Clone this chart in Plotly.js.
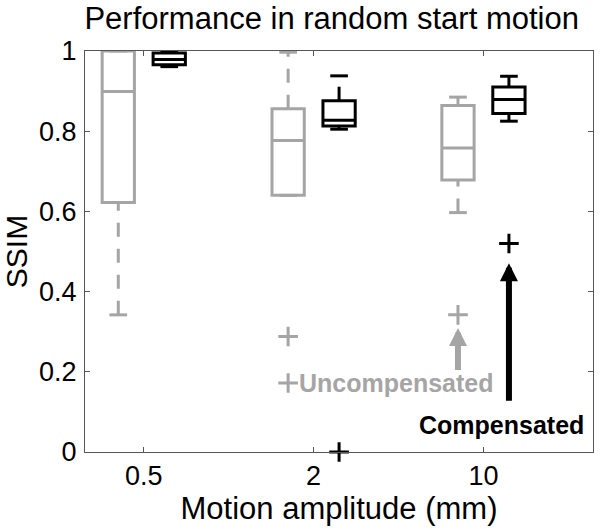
<!DOCTYPE html>
<html><head><meta charset="utf-8">
<script src="https://cdn.plot.ly/plotly-3.0.1.min.js"></script>
<style>html,body{margin:0;padding:0;background:#fff}#c{width:602px;height:531px}</style>
</head><body><div id="c"></div>
<script>
// ---- data ----
const categories = ['0.5', '2', '10'];
// Uncompensated (gray)
const uncQ1  = [0.622, 0.640, 0.678];
const uncMed = [0.899, 0.777, 0.758];
const uncQ3  = [1.000, 0.856, 0.864];
const uncLo  = [0.342, 0.640, 0.597];
const uncHi  = [1.000, 0.997, 0.885];
const uncOutCat = [1, 1, 2];
const uncOutVal = [0.288, 0.172, 0.342];
// Compensated (black)
const compQ1  = [0.966, 0.813, 0.844];
const compMed = [0.979, 0.827, 0.879];
const compQ3  = [0.995, 0.876, 0.910];
const compLo  = [0.961, 0.805, 0.825];
const compHi  = [0.999, 0.938, 0.937];
const compOutCat = [1, 2];
const compOutVal = [0.000, 0.520];

const GRAY = '#a5a5a5', BLACK = '#000000';
const OFF = 0.15, BW = 0.19, CAP = 0.052, LW = 3;
const FONT = 'Liberation Sans, Arial, sans-serif';

function group(q1, med, q3, lo, hi, oc, ov, off, color) {
  const pos = categories.map((c, i) => i + off);
  const traces = [];
  traces.push({type:'box', x:pos, q1:q1, median:med, q3:q3, lowerfence:q1, upperfence:q3,
    width:BW, whiskerwidth:0, boxpoints:false, line:{color:color, width:LW},
    fillcolor:'rgba(0,0,0,0)', hoverinfo:'skip', showlegend:false});
  const wx = [], wy = [], cx = [], cy = [];
  pos.forEach((p, i) => {
    if (lo[i] < q1[i]) { wx.push(p, p, null); wy.push(lo[i], q1[i], null); }
    if (hi[i] > q3[i]) { wx.push(p, p, null); wy.push(q3[i], hi[i], null); }
    cx.push(p - CAP, p + CAP, null, p - CAP, p + CAP, null);
    cy.push(lo[i], lo[i], null, hi[i], hi[i], null);
  });
  traces.push({type:'scatter', mode:'lines', x:wx, y:wy, line:{color:color, width:LW, dash:'14px,12px'},
    hoverinfo:'skip', showlegend:false, cliponaxis:false});
  traces.push({type:'scatter', mode:'lines', x:cx, y:cy, line:{color:color, width:LW},
    hoverinfo:'skip', showlegend:false, cliponaxis:false});
  traces.push({type:'scatter', mode:'markers', x:oc.map(c => c + off), y:ov,
    marker:{symbol:'cross-thin', size:14, line:{color:color, width:3}},
    hoverinfo:'skip', showlegend:false, cliponaxis:false});
  return traces;
}

const data = [].concat(
  group(uncQ1, uncMed, uncQ3, uncLo, uncHi, uncOutCat, uncOutVal, -OFF, GRAY),
  group(compQ1, compMed, compQ3, compLo, compHi, compOutCat, compOutVal, OFF, BLACK)
);

const axisCommon = {showline:true, linecolor:'#555', linewidth:1, mirror:'allticks',
  ticks:'inside', ticklen:5, tickcolor:'#555', showgrid:false, zeroline:false,
  tickfont:{family:FONT, size:27, color:'#000'}};

const layout = {
  width:602, height:531,
  margin:{l:84.5, r:9, t:50.5, b:78.5},
  paper_bgcolor:'#fff', plot_bgcolor:'#fff',
  title:{text:'Performance in random start motion', font:{family:FONT, size:31, color:'#000'},
    xref:'container', x:0.551, xanchor:'center', yref:'container', y:1-18/531, yanchor:'middle'},
  xaxis:Object.assign({}, axisCommon, {range:[-0.346, 2.645], tickvals:[0,1,2], ticktext:categories,
    title:{text:'Motion amplitude (mm)', font:{family:FONT, size:31, color:'#000'}, standoff:4}}),
  yaxis:Object.assign({}, axisCommon, {range:[0,1], tickvals:[0,0.2,0.4,0.6,0.8,1],
    ticktext:['0','0.2','0.4','0.6','0.8','1'], ticklabelstandoff:2,
    title:{text:'SSIM', font:{family:FONT, size:30, color:'#000'}, standoff:6}}),
  annotations:[
    {x:1.85, y:0.309, ax:1.85, ay:0.201, xref:'x', yref:'y', axref:'x', ayref:'y', text:'',
     showarrow:true, arrowhead:2, arrowsize:0.6, arrowwidth:6, arrowcolor:GRAY, standoff:0, startstandoff:0},
    {x:2.15, y:0.471, ax:2.15, ay:0.124, xref:'x', yref:'y', axref:'x', ayref:'y', text:'',
     showarrow:true, arrowhead:2, arrowsize:0.6, arrowwidth:6, arrowcolor:BLACK, standoff:0, startstandoff:0},
    {x:0.90, y:0.173, xref:'x', yref:'y', xanchor:'left', yanchor:'middle', showarrow:false,
     text:'<b>Uncompensated</b>', font:{family:FONT, size:25, color:GRAY}},
    {x:1.606, y:0.068, xref:'x', yref:'y', xanchor:'left', yanchor:'middle', showarrow:false,
     text:'<b>Compensated</b>', font:{family:FONT, size:25, color:BLACK}}
  ]
};

Plotly.newPlot('c', data, layout, {staticPlot:true, displayModeBar:false});
</script>
</body></html>
